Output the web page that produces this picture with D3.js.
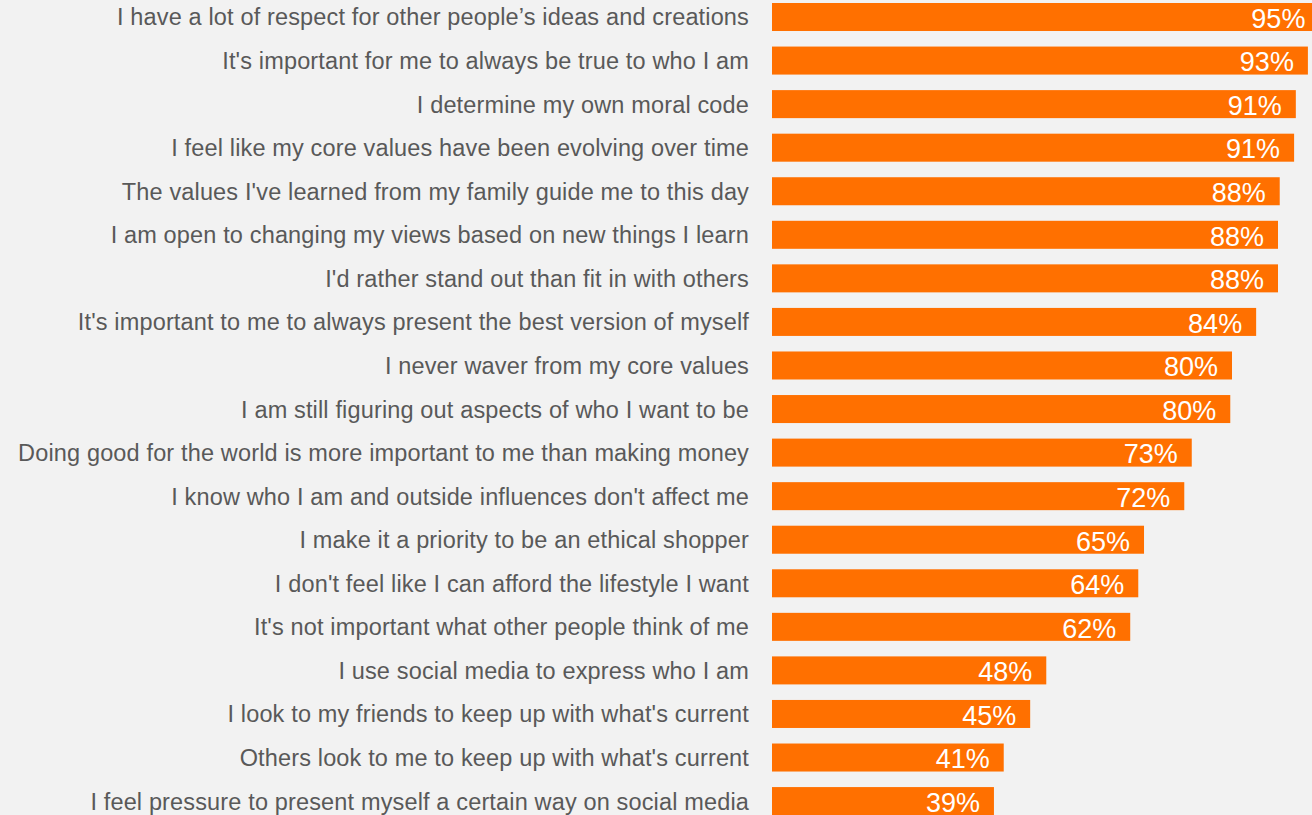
<!DOCTYPE html>
<html>
<head>
<meta charset="utf-8">
<script src="https://cdn.jsdelivr.net/npm/d3@7"></script>
<style>
  html, body { margin: 0; padding: 0; background: #f2f2f2; }
  svg { display: block; }
</style>
</head>
<body>
<svg id="chart"></svg>
<script>
const categories = [
  "I have a lot of respect for other people\u2019s ideas and creations",
  "It's important for me to always be true to who I am",
  "I determine my own moral code",
  "I feel like my core values have been evolving over time",
  "The values I've learned from my family guide me to this day",
  "I am open to changing my views based on new things I learn",
  "I'd rather stand out than fit in with others",
  "It's important to me to always present the best version of myself",
  "I never waver from my core values",
  "I am still figuring out aspects of who I want to be",
  "Doing good for the world is more important to me than making money",
  "I know who I am and outside influences don't affect me",
  "I make it a priority to be an ethical shopper",
  "I don't feel like I can afford the lifestyle I want",
  "It's not important what other people think of me",
  "I use social media to express who I am",
  "I look to my friends to keep up with what's current",
  "Others look to me to keep up with what's current",
  "I feel pressure to present myself a certain way on social media"
]
// bar lengths (labels are rounded)
const values = [95.2, 93.2, 91.1, 90.8, 88.3, 88.0, 88.0, 84.2, 80.0, 79.7, 73.0, 71.7, 64.7, 63.7, 62.3, 47.7, 44.9, 40.3, 38.6]
const labels = ["95%", "93%", "91%", "91%", "88%", "88%", "88%", "84%", "80%", "80%", "73%", "72%", "65%", "64%", "62%", "48%", "45%", "41%", "39%"]

const width = 1312
const height = 815
const data = categories.map((c, i) => ({ category: c, value: values[i], label: labels[i] }))

const svg = d3.select("#chart").attr("width", width).attr("height", height)

svg.append("rect").attr("width", width).attr("height", height).attr("fill", "#f2f2f2")

const x_scale = d3.scaleLinear().domain([0, 100]).range([772, 772 + 575])

const step = 43.56
const pad = 0.357
const y0 = 3 - step * pad / 2
const y_scale = d3.scaleBand().domain(categories)
  .range([y0, y0 + step * categories.length])
  .paddingInner(pad).paddingOuter(pad / 2)

svg.selectAll("rect.bar").data(data).join("rect")
  .attr("class", "bar")
  .attr("x", x_scale(0))
  .attr("y", d => y_scale(d.category))
  .attr("width", d => x_scale(d.value) - x_scale(0))
  .attr("height", y_scale.bandwidth())
  .attr("fill", "#ff7000")

svg.selectAll("text.cat").data(data).join("text")
  .attr("class", "cat")
  .attr("x", 749)
  .attr("y", d => y_scale(d.category) + y_scale.bandwidth() / 2)
  .attr("dy", "0.36em")
  .attr("text-anchor", "end")
  .attr("font-family", "Liberation Sans, Arial, sans-serif")
  .attr("font-size", 23.5)
  .attr("letter-spacing", 0.15)
  .attr("fill", "#595959")
  .text(d => d.category)

svg.selectAll("text.val").data(data).join("text")
  .attr("class", "val")
  .attr("x", d => x_scale(d.value) - 14)
  .attr("y", d => y_scale(d.category) + y_scale.bandwidth() / 2)
  .attr("dy", "0.4em")
  .attr("text-anchor", "end")
  .attr("font-family", "Liberation Sans, Arial, sans-serif")
  .attr("font-size", 27)
  .attr("fill", "#ffffff")
  .text(d => d.label)
</script>
</body>
</html>
